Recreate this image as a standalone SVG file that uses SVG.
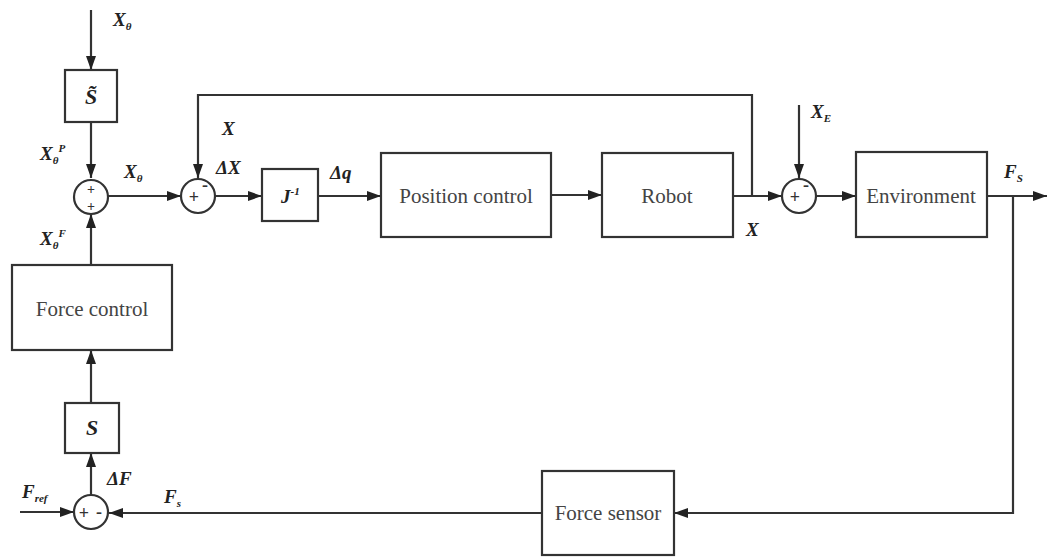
<svg xmlns="http://www.w3.org/2000/svg" width="1048" height="557" viewBox="0 0 1048 557">
<style>
.box{fill:#fff;stroke:#333;stroke-width:2.2}
.ln{fill:none;stroke:#333;stroke-width:2.2}
.arr{fill:none;stroke:#333;stroke-width:2.2;marker-end:url(#ah)}
.bt{font-family:"Liberation Serif","Times New Roman",serif;font-size:21px;fill:#444;text-anchor:middle}
.lb{font-family:"Liberation Serif","Times New Roman",serif;font-size:19px;font-style:italic;font-weight:bold;fill:#222}
.big{font-size:22px}
.sg{font-family:"Liberation Serif","Times New Roman",serif;font-size:18px;font-weight:bold;fill:#333;text-anchor:middle}
.sm{font-size:14px}
.sb{font-size:11px}
</style>
<defs>
<marker id="ah" viewBox="0 0 14 10" refX="14" refY="5" markerWidth="14" markerHeight="10" markerUnits="userSpaceOnUse" orient="auto">
<path d="M0,0 L14,5 L0,10 Z" fill="#222"/>
</marker>
</defs>
<rect width="1048" height="557" fill="#fff"/>
<g id="connectors">
<line class="arr" x1="91" y1="10" x2="91" y2="70"/>
<line class="arr" x1="91" y1="122" x2="91" y2="178"/>
<line class="arr" x1="91" y1="265" x2="91" y2="214"/>
<line class="arr" x1="108" y1="196" x2="181" y2="196"/>
<line class="arr" x1="215" y1="196" x2="262" y2="196"/>
<line class="arr" x1="318" y1="196" x2="381" y2="196"/>
<line class="arr" x1="551" y1="195" x2="602" y2="195"/>
<line class="arr" x1="733" y1="196" x2="782" y2="196"/>
<polyline class="arr" points="752,196 752,95 198,95 198,178"/>
<line class="arr" x1="799" y1="105" x2="799" y2="178"/>
<line class="arr" x1="816" y1="196" x2="856" y2="196"/>
<line class="arr" x1="987" y1="196" x2="1047" y2="196"/>
<polyline class="arr" points="1013,196 1013,513 674,513"/>
<line class="arr" x1="542" y1="513" x2="109" y2="513"/>
<line class="arr" x1="20" y1="512" x2="74" y2="512"/>
<line class="arr" x1="91" y1="495" x2="91" y2="453"/>
<line class="arr" x1="91" y1="403" x2="91" y2="350"/>
</g>
<g id="Stilde"><rect class="box" x="65" y="70" width="52" height="52"/><text class="lb big" x="91" y="104" text-anchor="middle">S̃</text></g>
<g id="sum1"><circle class="ln" cx="91" cy="197" r="17"/><text class="sg sm" x="91" y="194">+</text><text class="sg sm" x="91" y="211">+</text></g>
<g id="sum2"><circle class="ln" cx="198" cy="196" r="17"/><text class="sg" x="194" y="203">+</text><text class="sg" x="205" y="191">-</text></g>
<g id="J"><rect class="box" x="262" y="169" width="56" height="52"/><text class="lb" x="281" y="203">J<tspan class="sb" dy="-8">-1</tspan></text></g>
<g id="poscontrol"><rect class="box" x="381" y="153" width="170" height="84"/><text class="bt" x="466" y="203">Position control</text></g>
<g id="robot"><rect class="box" x="602" y="153" width="131" height="84"/><text class="bt" x="667" y="203">Robot</text></g>
<g id="sum3"><circle class="ln" cx="799" cy="196" r="17"/><text class="sg" x="795" y="203">+</text><text class="sg" x="806" y="191">-</text></g>
<g id="environment"><rect class="box" x="856" y="152" width="131" height="85"/><text class="bt" x="921" y="203">Environment</text></g>
<g id="forcecontrol"><rect class="box" x="12" y="265" width="160" height="85"/><text class="bt" x="92" y="316">Force control</text></g>
<g id="S"><rect class="box" x="65" y="403" width="54" height="50"/><text class="lb big" x="92" y="435" text-anchor="middle">S</text></g>
<g id="sum4"><circle class="ln" cx="91" cy="512" r="17"/><text class="sg" x="84" y="519">+</text><text class="sg" x="99" y="518">-</text></g>
<g id="forcesensor"><rect class="box" x="542" y="471" width="132" height="84"/><text class="bt" x="608" y="520">Force sensor</text></g>
<g id="labels">
<text class="lb" x="113" y="26">X<tspan class="sb" dy="4">θ</tspan></text>
<text class="lb" x="40" y="160">X<tspan class="sb" dy="4">θ</tspan><tspan class="sb" dy="-12">P</tspan></text>
<text class="lb" x="40" y="245">X<tspan class="sb" dy="4">θ</tspan><tspan class="sb" dy="-12">F</tspan></text>
<text class="lb" x="124" y="178">X<tspan class="sb" dy="4">θ</tspan></text>
<text class="lb" x="222" y="135">X</text>
<text class="lb" x="216" y="174">ΔX</text>
<text class="lb" x="330" y="179">Δq</text>
<text class="lb" x="746" y="236">X</text>
<text class="lb" x="811" y="118">X<tspan class="sb" dy="4">E</tspan></text>
<text class="lb" x="1004" y="178">F<tspan class="sb" dy="4">S</tspan></text>
<text class="lb" x="107" y="485">ΔF</text>
<text class="lb" x="22" y="498">F<tspan class="sb" dy="4">ref</tspan></text>
<text class="lb" x="164" y="503">F<tspan class="sb" dy="4">s</tspan></text>
</g>
</svg>
